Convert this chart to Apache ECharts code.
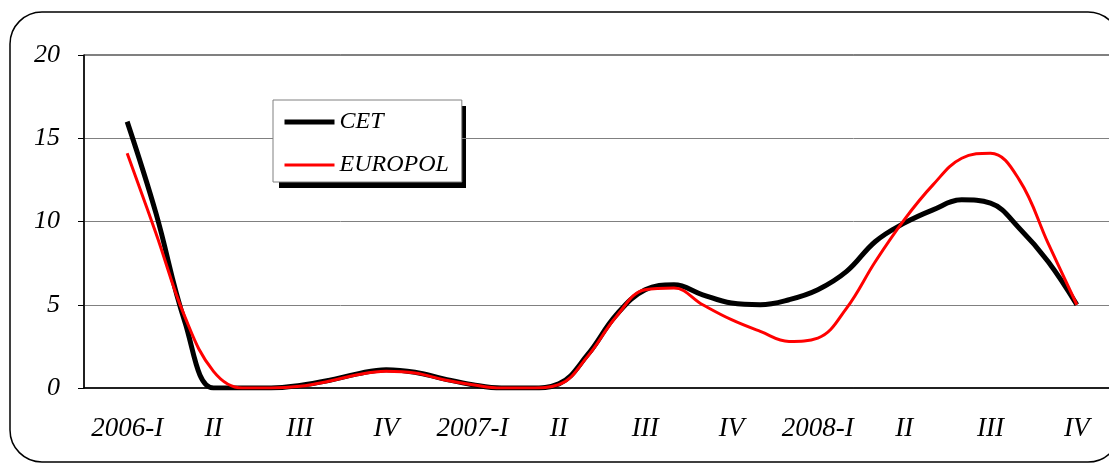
<!DOCTYPE html>
<html>
<head>
<meta charset="utf-8">
<title>CET / EUROPOL</title>
<script src="https://cdn.jsdelivr.net/npm/echarts@6/dist/echarts.min.js"></script>
<style>
  html, body { margin: 0; padding: 0; background: #fff; }
  #main { width: 1109px; height: 465px; }
</style>
</head>
<body>
<div id="main"></div>
<script>
// month slots, quarter label on the middle month
var months = ['', '2006-I', '', '', 'II', '', '', 'III', '', '', 'IV', '',
              '', '2007-I', '', '', 'II', '', '', 'III', '', '', 'IV', '',
              '', '2008-I', '', '', 'II', '', '', 'III', '', '', 'IV', ''];

// CET
var cetData = [null, 16.0, 10.5, 4.0, 0, 0, 0, 0.15, 0.45, 0.85, 1.1, 0.95,
               0.55, 0.2, 0, 0, 0.25, 2.0, 4.4, 5.9, 6.2, 5.6, 5.1, 5.0,
               5.3, 5.9, 7.0, 8.8, 9.9, 10.7, 11.3, 11.1, 9.6, 7.6, 5.0, null];

// EUROPOL
var europolData = [null, 14.1, 9.3, 4.3, 1.0, 0, 0, 0.1, 0.4, 0.8, 1.0, 0.9,
                   0.5, 0.2, 0, 0, 0.2, 1.9, 4.3, 5.9, 6.0, 5.0, 4.1, 3.4,
                   2.8, 3.0, 4.8, 7.6, 10.1, 12.2, 13.8, 14.1, 12.5, 8.7, 5.0, null];

var serif = "'Liberation Serif', 'Times New Roman', serif";

var chart = echarts.init(document.getElementById('main'));

var option = {
    animation: false,
    backgroundColor: '#fff',
    grid: {
        left: 84, top: 55, width: 1036, bottom: 77,
        outerBoundsMode: 'none',
        show: true, borderColor: '#000', borderWidth: 1
    },
    graphic: [
        // rounded chart border
        { type: 'rect', z: 0, shape: { x: 10, y: 12, width: 1110, height: 450, r: 32 },
          style: { fill: 'none', stroke: '#000', lineWidth: 1.5 } },
        // legend shadow
        { type: 'rect', z: 0, shape: { x: 279, y: 106, width: 187, height: 82 },
          style: { fill: '#000' } }
    ],
    legend: {
        orient: 'vertical',
        left: 273, top: 100,
        padding: [10, 13, 5, 9],
        itemWidth: 50, itemHeight: 24, itemGap: 19,
        backgroundColor: '#fff', borderColor: '#808080', borderWidth: 1,
        textStyle: { fontFamily: serif, fontStyle: 'italic', fontSize: 24, color: '#000' },
        data: [
            { name: 'CET', itemStyle: { opacity: 0 }, lineStyle: { width: 5, color: '#000' } },
            { name: 'EUROPOL', itemStyle: { opacity: 0 }, lineStyle: { width: 3, color: '#ff0000' } }
        ]
    },
    xAxis: {
        type: 'category',
        data: months,
        boundaryGap: true,
        axisLine: { lineStyle: { color: '#000', width: 1.5 } },
        axisTick: {
            length: 6,
            lineStyle: { color: '#000' },
            interval: function (i) { return i % 3 === 0; }
        },
        axisLabel: {
            interval: 0, margin: 27,
            fontFamily: serif, fontStyle: 'italic', fontSize: 27, color: '#000'
        },
        splitLine: { show: false }
    },
    yAxis: {
        type: 'value',
        min: 0, max: 20, interval: 5,
        axisLine: { show: true, lineStyle: { color: '#000', width: 1.5 } },
        axisTick: { show: true, length: 6, lineStyle: { color: '#000' } },
        axisLabel: { margin: 24, fontFamily: serif, fontStyle: 'italic', fontSize: 26, color: '#000' },
        splitLine: { lineStyle: { color: '#808080', width: 1 } }
    },
    series: [
        {
            name: 'CET', type: 'line', data: cetData,
            smooth: 0.4, symbol: 'none', connectNulls: false,
            lineStyle: { color: '#000', width: 5 },
            itemStyle: { color: '#000' }
        },
        {
            name: 'EUROPOL', type: 'line', data: europolData,
            smooth: 0.4, symbol: 'none', connectNulls: false,
            lineStyle: { color: '#ff0000', width: 3 },
            itemStyle: { color: '#ff0000' }
        }
    ]
};

chart.setOption(option);
</script>
</body>
</html>
